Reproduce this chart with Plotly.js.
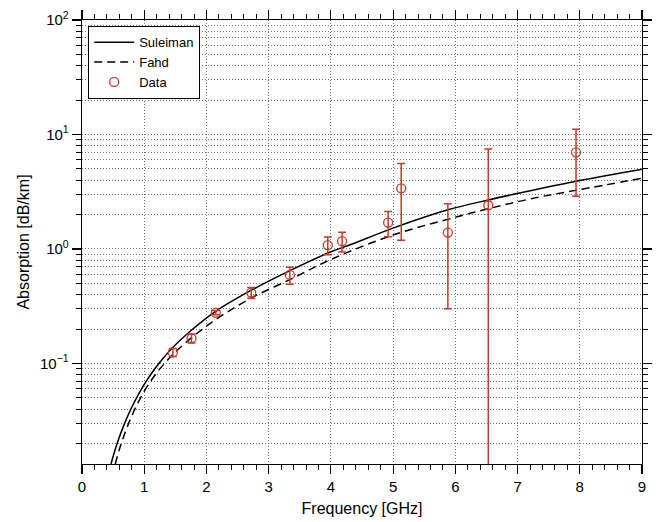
<!DOCTYPE html>
<html>
<head>
<meta charset="utf-8">
<script src="https://cdn.plot.ly/plotly-3.0.1.min.js"></script>
<style>html,body{margin:0;padding:0;background:#fff;}#chart{width:662px;height:522px;}</style>
</head>
<body>
<div id="chart"></div>
<script>
// Suleiman model curve
var suleimanFreq = [0.466, 0.551, 0.648, 0.744, 0.841, 0.937, 1.033, 1.130, 1.226, 1.339, 1.449, 1.757, 2.142, 2.70, 3.35, 4.00, 4.31, 5.01, 5.88, 6.53, 7.37, 7.96, 9.00];
var suleimanAbs  = [0.01325, 0.0190, 0.0267, 0.0357, 0.0459, 0.0574, 0.0700, 0.0838, 0.0984, 0.1168, 0.1366, 0.1950, 0.284, 0.430, 0.650, 0.945, 1.09, 1.53, 2.20, 2.68, 3.37, 3.92, 4.97];
// Fahd model curve
var fahdFreq = [0.535, 0.600, 0.696, 0.792, 0.889, 0.985, 1.082, 1.178, 1.291, 1.419, 1.548, 1.741, 1.982, 2.223, 2.705, 3.40, 4.00, 5.01, 6.03, 6.56, 7.37, 7.96, 9.00];
var fahdAbs  = [0.01322, 0.0177, 0.0252, 0.0341, 0.0442, 0.0554, 0.0673, 0.0798, 0.0953, 0.1137, 0.1330, 0.1646, 0.2084, 0.2573, 0.3695, 0.560, 0.810, 1.33, 1.91, 2.27, 2.86, 3.27, 4.15];
// Measured data with error bars
var dataFreq = [1.46, 1.76, 2.15, 2.72, 3.34, 3.95, 4.18, 4.92, 5.13, 5.88, 6.53, 7.94];
var dataAbs  = [0.125, 0.166, 0.278, 0.416, 0.593, 1.08, 1.17, 1.70, 3.39, 1.39, 2.41, 6.99];
var dataErr  = [0.010, 0.015, 0.012, 0.045, 0.10, 0.19, 0.23, 0.42, 2.2, 1.09, 5.06, 4.1];
// Tick labels
var xTicks = [0, 1, 2, 3, 4, 5, 6, 7, 8, 9];
var yMajorVals = [0.1, 1, 10, 100];
var yMajorText = ['10<sup>\u22121</sup>', '10<sup>0</sup>', '10<sup>1</sup>', '10<sup>2</sup>'];
var yMinorVals = [0.02,0.03,0.04,0.05,0.06,0.07,0.08,0.09,0.2,0.3,0.4,0.5,0.6,0.7,0.8,0.9,2,3,4,5,6,7,8,9,20,30,40,50,60,70,80,90];

var red = 'rgb(196,58,40)';
var font = 'Liberation Sans, Arial, Helvetica, sans-serif';

var traces = [
  {x: suleimanFreq, y: suleimanAbs, name: 'Suleiman', mode: 'lines',
   line: {color: '#000', width: 1.5, shape: 'spline', smoothing: 1}},
  {x: fahdFreq, y: fahdAbs, name: 'Fahd', mode: 'lines',
   line: {color: '#000', width: 1.5, dash: '8px,5px', shape: 'spline', smoothing: 1}},
  {x: dataFreq, y: dataAbs, name: 'Data', mode: 'markers',
   marker: {symbol: 'circle-open', size: 9, color: red, line: {width: 1.3, color: red}},
   error_y: {type: 'data', array: dataErr, symmetric: true, color: red, thickness: 1.5, width: 4}}
];

var gridCol = 'rgb(120,120,120)';
var layout = {
  width: 662, height: 522,
  margin: {l: 82, r: 20, t: 20, b: 58},
  paper_bgcolor: '#fff', plot_bgcolor: '#fff',
  font: {family: font, color: '#000', size: 15},
  showlegend: true,
  legend: {x: 0.0107, y: 0.9865, xanchor: 'left', yanchor: 'top',
           bordercolor: '#000', borderwidth: 1.2, bgcolor: '#fff', itemwidth: 40,
           font: {family: font, size: 13, color: '#000'}},
  xaxis: {
    range: [0, 9], tickmode: 'array', tickvals: xTicks, ticktext: xTicks.map(String),
    ticks: 'outside', ticklen: 9, tickwidth: 1.2, tickcolor: '#000',
    showline: true, linecolor: '#000', linewidth: 1.3, mirror: 'ticks',
    showgrid: true, gridcolor: gridCol, gridwidth: 1, griddash: '1px,2px',
    zeroline: false,
    minor: {dtick: 0.2, ticks: 'outside', ticklen: 5, tickwidth: 1, tickcolor: '#000', showgrid: false},
    tickfont: {family: font, size: 15},
    title: {text: 'Frequency [GHz]', font: {family: font, size: 16}, standoff: 8}
  },
  yaxis: {
    type: 'log', range: [-1.878, 2],
    tickmode: 'array', tickvals: yMajorVals, ticktext: yMajorText,
    ticks: 'outside', ticklen: 9, tickwidth: 1.2, tickcolor: '#000',
    showline: true, linecolor: '#000', linewidth: 1.3, mirror: 'ticks',
    showgrid: true, gridcolor: gridCol, gridwidth: 1, griddash: '1px,2px',
    zeroline: false,
    minor: {tickmode: 'array', tickvals: yMinorVals, ticks: 'outside', ticklen: 5, tickwidth: 1, tickcolor: '#000',
            showgrid: true, gridcolor: gridCol, gridwidth: 1, griddash: '1px,2px'},
    tickfont: {family: font, size: 15},
    title: {text: 'Absorption [dB/km]', font: {family: font, size: 16}, standoff: 6}
  }
};

Plotly.newPlot('chart', traces, layout, {displayModeBar: false, staticPlot: true});
</script>
</body>
</html>
